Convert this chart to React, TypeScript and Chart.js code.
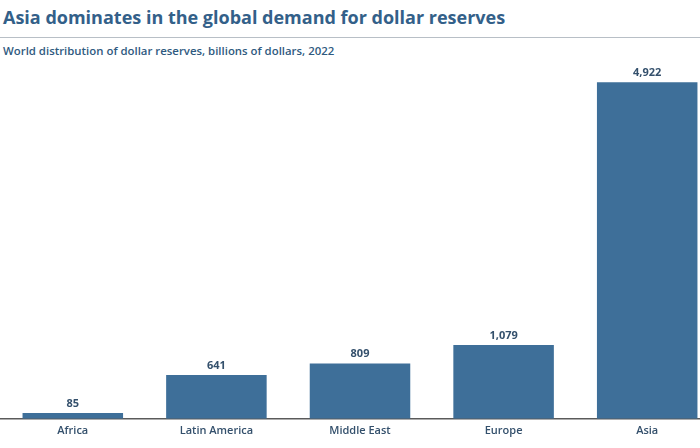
import React, { useEffect, useRef } from "react";
import { Chart, registerables } from "chart.js";

Chart.register(...registerables);

const categories = ["Africa", "Latin America", "Middle East", "Europe", "Asia"];
const reserves = [85, 641, 809, 1079, 4922];
const titleText = "Asia dominates in the global demand for dollar reserves";
const subtitleText = "World distribution of dollar reserves, billions of dollars, 2022";

const BAR = "#3e6f99";
const TEXT_DARK = "#34506c";

const valueLabels = {
  id: "valueLabels",
  afterDatasetsDraw(chart: any) {
    const ctx = chart.ctx;
    const meta = chart.getDatasetMeta(0);
    ctx.save();
    ctx.font = "bold 11px 'Open Sans'";
    ctx.fillStyle = TEXT_DARK;
    ctx.textAlign = "center";
    ctx.textBaseline = "bottom";
    meta.data.forEach((bar: any, i: number) => {
      ctx.fillText(reserves[i].toLocaleString("en-US"), bar.x, bar.y - 4);
    });
    ctx.restore();
  },
};

export default function App() {
  const ref = useRef<HTMLCanvasElement>(null);
  useEffect(() => {
    document.body.style.margin = "0";
    const chart = new Chart(ref.current!, {
      type: "bar",
      data: {
        labels: categories,
        datasets: [
          {
            data: reserves,
            backgroundColor: BAR,
            barPercentage: 0.7,
            categoryPercentage: 1,
          },
        ],
      },
      options: {
        animation: false,
        responsive: false,
        layout: { padding: { top: 10, left: 1, right: 1, bottom: 6 } },
        plugins: {
          legend: { display: false },
          tooltip: { enabled: false },
        },
        scales: {
          x: {
            grid: { display: false, drawTicks: false },
            border: { display: true, color: "#5a5a5a", width: 1.5 },
            ticks: {
              color: TEXT_DARK,
              font: { family: "'Open Sans'", size: 11, weight: "600" },
              padding: 5,
            },
          },
          y: {
            display: false,
            min: 0,
            max: 5100,
          },
        },
      },
      plugins: [valueLabels],
    });
    return () => chart.destroy();
  }, []);

  return (
    <div style={{ position: "relative", width: 700, height: 448, overflow: "hidden", background: "#fff" }}>
      <div
        style={{
          position: "absolute",
          left: 3,
          top: 5,
          fontFamily: "'Open Sans'",
          fontWeight: 700,
          fontSize: 18,
          color: "#336089",
          whiteSpace: "nowrap",
        }}
      >
        {titleText}
      </div>
      <div style={{ position: "absolute", left: 0, top: 37, width: 700, height: 1, background: "#b8bfc6" }} />
      <div
        style={{
          position: "absolute",
          left: 3,
          top: 43,
          fontFamily: "'Open Sans'",
          fontWeight: 600,
          fontSize: 11.4,
          color: "#2f5a80",
          whiteSpace: "nowrap",
        }}
      >
        {subtitleText}
      </div>
      <div style={{ position: "absolute", left: 0, top: 60, width: 720, height: 388 }}>
        <canvas ref={ref} width={720} height={388} style={{ display: "block" }} />
      </div>
    </div>
  );
}
